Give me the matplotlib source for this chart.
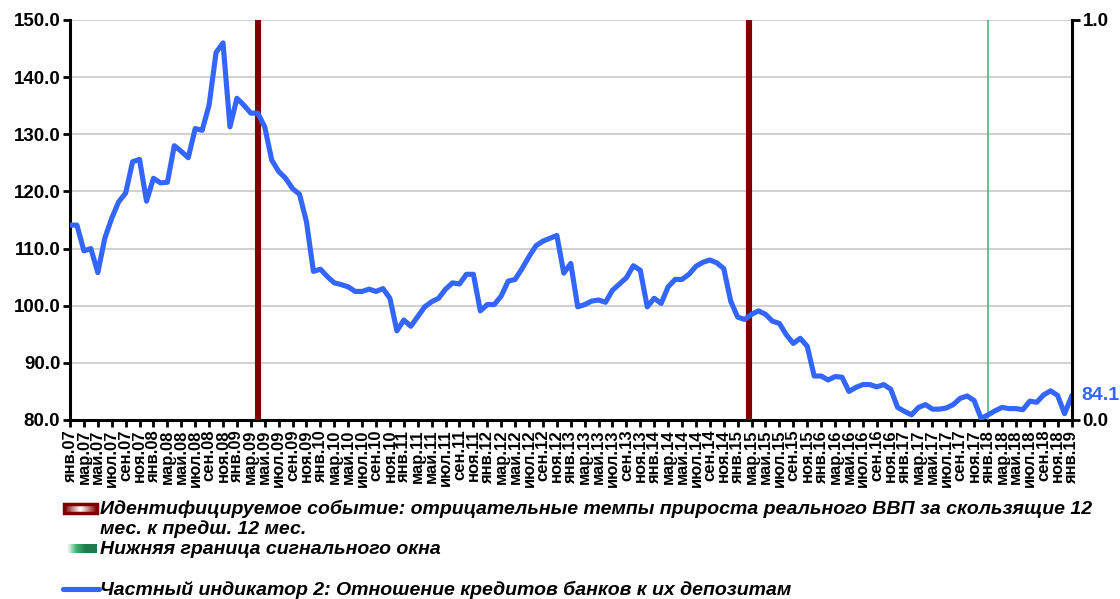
import matplotlib

matplotlib.use("Agg")
import matplotlib.pyplot as plt
import numpy as np
from matplotlib.lines import Line2D
from matplotlib.patches import Rectangle

plt.rcParams["font.family"] = ["Liberation Sans", "DejaVu Sans"]

# --- data -----------------------------------------------------------------
month_names = ["янв", "фев", "мар", "апр", "май", "июн",
               "июл", "авг", "сен", "окт", "ноя", "дек"]
years = list(range(7, 20))  # 2007 .. 2019
months = [f"{m}.{y:02d}" for y in years for m in month_names][:145]  # янв.07 .. янв.19

# loans-to-deposits ratio, monthly
ratio = [
    114.1, 114.1, 109.6, 110.0, 105.8, 111.8, 115.3, 118.2, 119.7, 125.2, 125.6, 118.3,
    122.3, 121.5, 121.6, 128.0, 127.0, 125.9, 131.0, 130.7, 135.1, 144.3, 146.0, 131.3,
    136.3, 135.1, 133.7, 133.7, 131.3, 125.5, 123.5, 122.3, 120.5, 119.5, 114.7, 106.0,
    106.4, 105.1, 104.0, 103.7, 103.3, 102.5, 102.5, 102.9, 102.5, 103.0, 101.3, 95.6,
    97.5, 96.4, 98.1, 99.8, 100.7, 101.3, 102.9, 104.0, 103.8, 105.5, 105.5, 99.1,
    100.2, 100.2, 101.7, 104.3, 104.6, 106.5, 108.6, 110.5, 111.3, 111.8, 112.3, 105.7,
    107.4, 99.8, 100.2, 100.8, 101.0, 100.6, 102.7, 103.8, 104.9, 107.0, 106.2, 99.8,
    101.3, 100.4, 103.3, 104.6, 104.6, 105.5, 106.9, 107.6, 108.0, 107.5, 106.5, 100.8,
    98.0, 97.6, 98.5, 99.1, 98.5, 97.3, 96.9, 94.9, 93.4, 94.3, 92.9, 87.7,
    87.7, 87.0, 87.6, 87.5, 85.0, 85.7, 86.2, 86.2, 85.8, 86.2, 85.4, 82.2,
    81.5, 80.9, 82.2, 82.7, 81.9, 81.9, 82.1, 82.7, 83.8, 84.2, 83.4, 80.3,
    80.9, 81.6, 82.2, 82.0, 82.0, 81.8, 83.3, 83.1, 84.4, 85.1, 84.3, 81.1,
    84.1,
]

event_months = [27, 97.6]     # negative real GDP growth (month index)
signal_window_start = [132]   # lower bound of signal window (янв.18)

y_ticks = [80, 90, 100, 110, 120, 130, 140, 150]

BLUE = "#3366ff"
DARK_RED = "#800000"
GREEN = "#3cb371"

# --- figure ---------------------------------------------------------------
W, H = 1120, 599
fig = plt.figure(figsize=(W / 100, H / 100), dpi=100)
ax = fig.add_axes([70 / W, 1 - 420 / H, (1071.5 - 70) / W, 400 / H])

x = np.arange(len(ratio))
ax.plot(x, ratio, color=BLUE, lw=3.7, zorder=4, solid_joinstyle="round")
for ev in event_months:
    ax.axvline(ev, color=DARK_RED, lw=4.4, zorder=3)
for sw in signal_window_start:
    ax.axvline(sw, color=GREEN, lw=1.1, zorder=3)

ax.set_xlim(0, len(ratio) - 1)
ax.set_ylim(y_ticks[0], y_ticks[-1])
ax.set_yticks(y_ticks)
ax.set_yticklabels([f"{v:.1f}" for v in y_ticks], fontsize=13.5, fontweight="bold")
ax.set_xticks(x[::2])
ax.set_xticklabels(months[::2], rotation=90, fontsize=12, fontweight="bold")
ax.yaxis.grid(True, color="#c8c8c8", lw=1.2)
ax.set_axisbelow(True)

ax.spines["top"].set_visible(False)
ax.spines["right"].set_visible(False)
for s in ("left", "bottom"):
    ax.spines[s].set_linewidth(2.2)
ax.tick_params(axis="both", direction="out", length=5, width=2, pad=2)

ax.annotate(f"{ratio[-1]:.1f}", xy=(x[-1], ratio[-1]), xytext=(7, 1),
            textcoords="offset points", va="center", ha="left",
            color=BLUE, fontsize=14, fontweight="bold", annotation_clip=False)

# secondary axis (event indicator scale)
ax2 = ax.twinx()
ax2.set_ylim(0, 1)
ax2.set_yticks([0, 1])
ax2.set_yticklabels(["0.0", "1.0"], fontsize=13.5, fontweight="bold")
for s in ("top", "left", "bottom"):
    ax2.spines[s].set_visible(False)
ax2.spines["right"].set_linewidth(2.2)
ax2.tick_params(axis="y", direction="out", length=6, width=2, pad=2)

# --- legend (drawn by hand to follow the original layout) -----------------
def fy(py):
    return 1 - py / H

txt = dict(fontsize=14, fontweight="bold", fontstyle="italic", va="center", ha="left")

grad = np.linspace(0, 1, 64)
red_grad = np.abs(grad - 0.5) * 2
gax = fig.add_axes([64 / W, fy(513), 33 / W, 9 / H])
gax.imshow(red_grad[None, :], cmap=matplotlib.colors.LinearSegmentedColormap.from_list(
    "r", ["white", DARK_RED]), aspect="auto", extent=(0, 1, 0, 1))
gax.add_patch(Rectangle((0, 0), 1, 1, fill=False, ec=DARK_RED, lw=2.5,
                        transform=gax.transAxes, clip_on=False))
gax.set_axis_off()
fig.text(100 / W, fy(519), "Идентифицируемое событие: отрицательные темпы прироста "
         "реального ВВП за скользящие 12\nмес. к предш. 12 мес.",
         linespacing=1.18, **txt)

green_grad = np.clip(grad * 1.6, 0, 1)
gax2 = fig.add_axes([67 / W, fy(553), 30 / W, 9 / H])
gax2.imshow(green_grad[None, :], cmap=matplotlib.colors.LinearSegmentedColormap.from_list(
    "g", ["white", GREEN, "#1e7a4a"]), aspect="auto", extent=(0, 1, 0, 1))
gax2.set_axis_off()
fig.text(100 / W, fy(549), "Нижняя граница сигнального окна", **txt)

fig.add_artist(Line2D([63 / W, 99 / W], [fy(589), fy(589)], color=BLUE, lw=3.7,
                      solid_capstyle="round"))
fig.text(100 / W, fy(590), "Частный индикатор 2: Отношение кредитов банков к их депозитам",
         **txt)

fig.savefig("out.png", dpi=100)
